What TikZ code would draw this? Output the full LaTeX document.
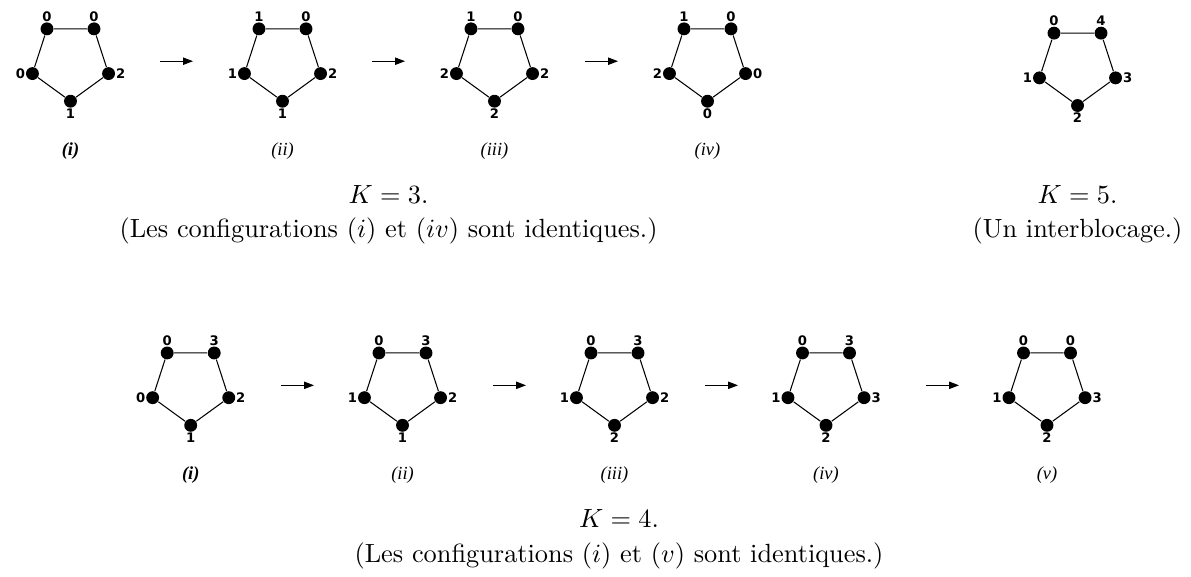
\documentclass[tikz,border=0pt]{standalone}
\usepackage{fontspec}
\usepackage{amsmath}
\usetikzlibrary{arrows.meta}
\newfontfamily\digfont{DejaVu Sans}
\newfontfamily\capfont{Liberation Serif}

\begin{document}
\begin{tikzpicture}[x=0.38pt,y=0.38pt,
    dot/.style={circle,fill=black,inner sep=0pt,minimum size=4.9pt,label distance=2pt},
    every label/.style={font=\digfont\bfseries\fontsize{5}{6}\selectfont,inner sep=0pt},
    ringline/.style={draw=black,line width=0.4pt},
    go/.style={-{Triangle[length=3.8pt,width=2.8pt]},line width=0.4pt},
    tag/.style={font=\capfont\itshape\fontsize{7}{8}\selectfont}]

    \useasboundingbox (0,0) rectangle (1191,576);

    % the rings: name / centre / labels (top left, top right, right, bottom, left) / caption
    \foreach \g/\cx/\cy/\a/\b/\c/\d/\e/\t in {
        t1/70.5/514.8/0/0/2/1/0/{\bfseries(i)},
        t2/282.5/514.8/1/0/2/1/1/(ii),
        t3/494.5/514.8/1/0/2/2/2/(iii),
        t4/707.5/514.8/1/0/0/0/2/(iv),
        t5/1077.5/510.5/0/4/3/2/1/{},
        b1/190.7/190.7/0/3/2/1/0/{\bfseries(i)},
        b2/402.5/190.7/0/3/2/1/1/(ii),
        b3/614.5/190.7/0/3/2/2/1/(iii),
        b4/826/190.7/0/3/3/2/1/(iv),
        b5/1047/190.7/0/0/3/2/1/(v)}
    {
        \begin{scope}[shift={(\cx,\cy)}]
            \node[dot,label=above:\a] (\g-1) at (126:40) {};
            \node[dot,label=above:\b] (\g-2) at (54:40) {};
            \node[dot,label=right:\c] (\g-3) at (-18:40) {};
            \node[dot,label=below:\d] (\g-4) at (-90:40) {};
            \node[dot,label=left:\e] (\g-5) at (198:40) {};
            \node[tag] (\g-c) at (0,-90) {\t};
        \end{scope}
        \draw[ringline] (\g-1) -- (\g-2) -- (\g-3) -- (\g-4) -- (\g-5) -- (\g-1);
    }

    % arrows between the rings
    \foreach \x/\y [count=\i] in {160/514.8, 372/514.8, 585/514.8,
                                  281/190.7, 493/190.7, 705/190.7, 926/190.7}
    {
        \coordinate (s\i) at (\x,\y);
        \coordinate (e\i) at (\x+33,\y);
        \draw[go] (s\i) -- (e\i);
    }

    \node[anchor=base] (k3) at (388.5,373) {$K=3.$};
    \node[anchor=base] (n3) at (388.5,339) {(Les configurations ($i$) et ($iv$) sont identiques.)};
    \node[anchor=base] (k5) at (1077.5,373) {$K=5.$};
    \node[anchor=base] (n5) at (1077.5,339) {(Un interblocage.)};
    \node[anchor=base] (k4) at (619,49) {$K=4.$};
    \node[anchor=base] (n4) at (619,14) {(Les configurations ($i$) et ($v$) sont identiques.)};

\end{tikzpicture}
\end{document}
